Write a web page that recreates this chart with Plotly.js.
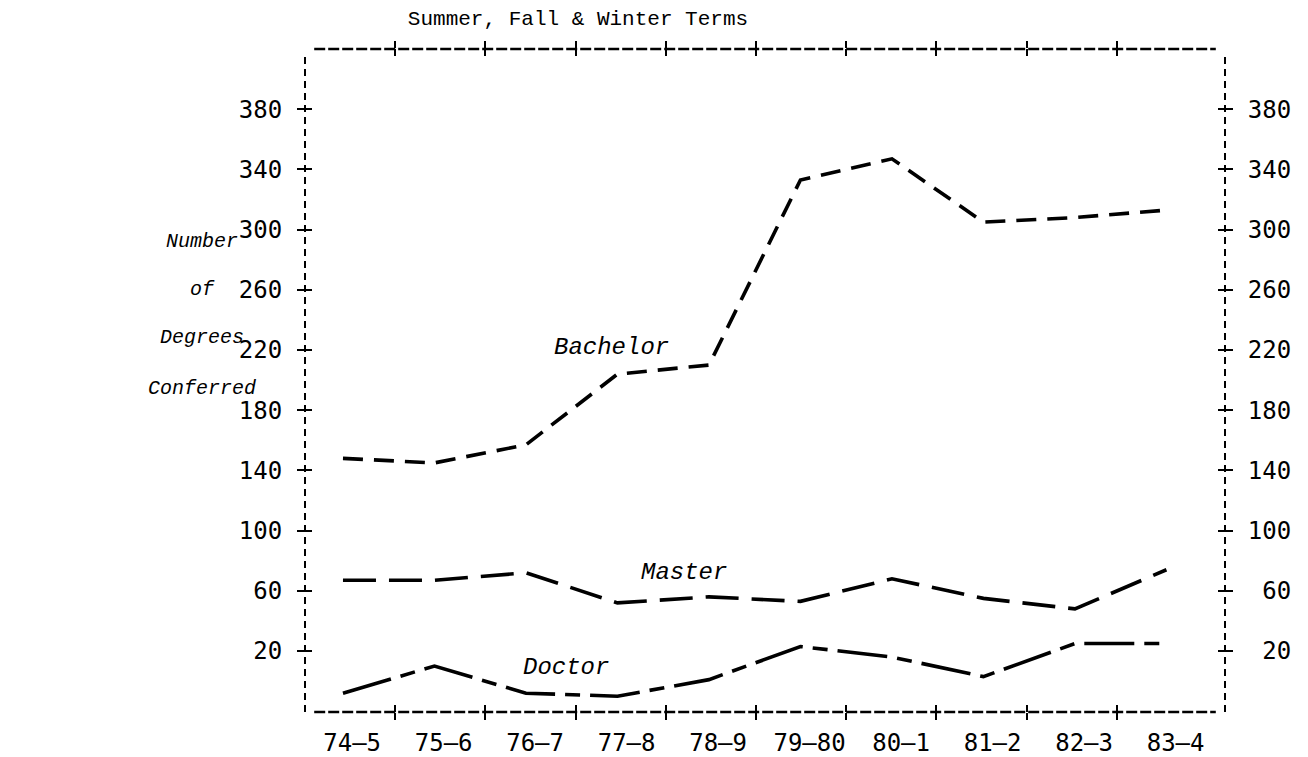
<!DOCTYPE html>
<html>
<head>
<meta charset="utf-8">
<script src="https://cdn.plot.ly/plotly-3.0.1.min.js"></script>
<style>html,body{margin:0;padding:0;background:#fff;}#chart{width:1308px;height:757px;}</style>
</head>
<body>
<div id="chart"></div>
<script>
// ---- data ----
const terms = ["74–5","75–6","76–7","77–8","78–9","79–80","80–1","81–2","82–3","83–4"];
const bachelor = [148,145,157,204,210,333,347,305,308,313];
const master   = [67,67,72,52,56,53,68,55,48,74];
const doctor   = [-8,10,-8,-10,1,23,16,3,25,25];
const yTicks   = [20,60,100,140,180,220,260,300,340,380];
const xTickMarks = [0,1,2,3,4,5,6,7,8];
const seriesNames = ["Bachelor","Master","Doctor"];

const xIdx = terms.map((t,i)=>i);
const yRange = [-20.5, 420];
const mono = "DejaVu Sans Mono";
const courier = "Liberation Mono";

function line(y, dash){
  return {x:xIdx, y:y, type:'scatter', mode:'lines', showlegend:false, hoverinfo:'skip',
          line:{color:'#000', width:3.6, dash:dash}};
}
const empty = (xa,ya)=>({x:[],y:[],type:'scatter',mode:'lines',xaxis:xa,yaxis:ya,showlegend:false,hoverinfo:'skip'});

const traces = [
  line(bachelor, '20px,11px'),
  line(master, '33px,13px'),
  line(doctor, '50px,10px,15px,10px'),
  empty('x2','y'), empty('x3','y'), empty('x4','y'), empty('x5','y'),
  empty('x','y2'), empty('x','y3'), empty('x','y4')
];

const tickAxX = (side, dir)=>({overlaying:'x', anchor:'y', side:side, range:[-1,9.2],
  tickvals:xTickMarks, ticks:dir, ticklen:7, tickwidth:2, tickcolor:'#000',
  showticklabels:false, showgrid:false, zeroline:false, showline:false, fixedrange:true});
const tickAxY = (side, dir, labels)=>({overlaying:'y', anchor:'x', side:side, range:yRange,
  tickvals:yTicks, ticktext: labels ? yTicks.map(v=>String(v).padStart(3,'\u00a0')) : undefined,
  ticks:dir, ticklen:7, tickwidth:2, tickcolor:'#000', showticklabels:!!labels,
  ticklabelstandoff: labels ? 10 : 0,
  tickfont:{family:mono, size:24, color:'#000'},
  showgrid:false, zeroline:false, showline:false, fixedrange:true});

const dashH = '11px,3px', dashV = '7px,5px';
const ann = (txt, x, y, size, xref, yref)=>({text:txt, x:x, y:y, xref:xref||'x', yref:yref||'y',
  showarrow:false, xanchor:'center', yanchor:'middle',
  font:{family:courier, size:size, color:'#000', style:'italic'}});

const layout = {
  width:1308, height:757,
  margin:{l:305, r:83, t:49, b:45},
  paper_bgcolor:'#fff', plot_bgcolor:'#fff',
  showlegend:false,
  title:{text:'Summer, Fall & Winter Terms', xref:'container', yref:'container',
         x:578/1308, xanchor:'center', y:1-18/757, yanchor:'middle',
         font:{family:courier, size:21, color:'#000'}},
  xaxis:{range:[-0.415, 9.64], tickvals:xIdx.map(i=>i+0.1), ticktext:terms,
         ticks:'', showgrid:false, zeroline:false, showline:false, fixedrange:true,
         ticklabelstandoff:14, tickfont:{family:mono, size:24, color:'#000'}},
  xaxis2:tickAxX('bottom','outside'),
  xaxis3:tickAxX('bottom','inside'),
  xaxis4:tickAxX('top','outside'),
  xaxis5:tickAxX('top','inside'),
  yaxis:{range:yRange, tickvals:yTicks, ticks:'outside', ticklen:7, tickwidth:2, tickcolor:'#000',
         showgrid:false, zeroline:false, showline:false, fixedrange:true,
         ticklabelstandoff:10, tickfont:{family:mono, size:24, color:'#000'}},
  yaxis2:tickAxY('right','outside',true),
  yaxis3:tickAxY('left','inside',false),
  yaxis4:tickAxY('right','inside',false),
  shapes:[
    {type:'line', xref:'paper', yref:'paper', x0:0, x1:0, y0:0, y1:0.994, line:{color:'#000', width:2, dash:dashV}},
    {type:'line', xref:'paper', yref:'paper', x0:1, x1:1, y0:0, y1:0.994, line:{color:'#000', width:2, dash:dashV}},
    {type:'line', xref:'paper', yref:'paper', x0:0.01, x1:0.99, y0:1, y1:1, line:{color:'#000', width:2.4, dash:dashH}},
    {type:'line', xref:'paper', yref:'paper', x0:0.01, x1:0.99, y0:0, y1:0, line:{color:'#000', width:2.4, dash:dashH}}
  ],
  annotations:[
    ann(seriesNames[0], 2.93, 222, 24),
    ann(seriesNames[1], 3.73, 72, 24),
    ann(seriesNames[2], 2.44, 9, 24),
    ann('Number', (202-305)/920, 1-(241-49)/663, 20, 'paper', 'paper'),
    ann('of', (202-305)/920, 1-(289-49)/663, 20, 'paper', 'paper'),
    ann('Degrees', (202-305)/920, 1-(337-49)/663, 20, 'paper', 'paper'),
    ann('Conferred', (202-305)/920, 1-(389-49)/663, 20, 'paper', 'paper')
  ]
};

Plotly.newPlot('chart', traces, layout, {staticPlot:true, displayModeBar:false});
</script>
</body>
</html>
